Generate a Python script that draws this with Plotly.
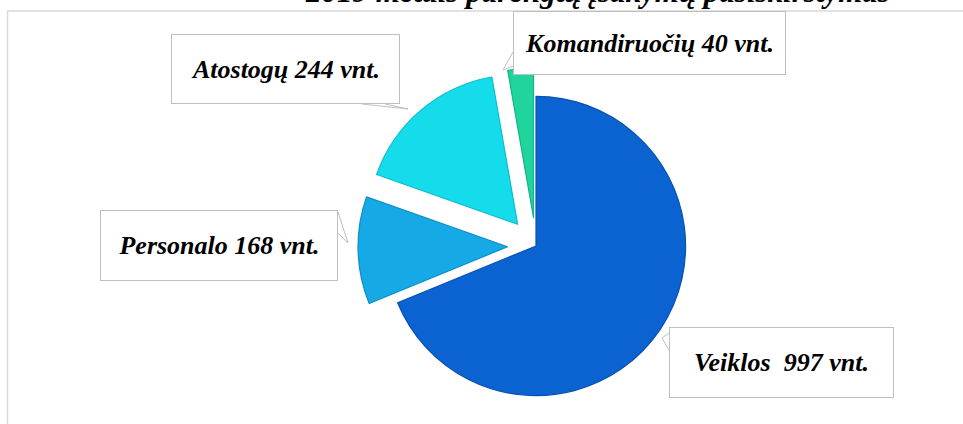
import plotly.graph_objects as go

W, H = 963, 424

# data
categories = ["Veiklos", "Personalo", "Atostogų", "Komandiruočių"]
values = [997, 168, 244, 40]
label_texts = ["Veiklos\u00a0 997 vnt.", "Personalo 168 vnt.", "Atostogų 244 vnt.", "Komandiruočių 40 vnt."]
colors = ["#0A63D1", "#15A9E6", "#14DCEB", "#20D49E"]
edge_colors = ["#0751B3", "#0E8EC6", "#0FBBCB", "#17B386"]
pulls = [0, 0.19, 0.19, 0.19]

title_text = "2019 metais parengtų įsakymų pasiskirstymas"

def px(x):
    return x / W

def py(y):
    return 1 - y / H

fig = go.Figure()
fig.add_trace(go.Pie(
    labels=categories, values=values,
    sort=False, direction="clockwise", rotation=0,
    pull=pulls,
    marker=dict(colors=colors, line=dict(color=edge_colors, width=1.2)),
    textinfo="none", hoverinfo="label+value",
    showlegend=False,
    domain=dict(x=[px(358), px(714)], y=[0, py(68)]),
))

serif = "Liberation Serif, Times New Roman, serif"
font = dict(family=serif, size=26, color="black")

# label boxes (center x, center y, width, height)
boxes = {
    "Veiklos": (781.5, 362.5, 225, 71),
    "Personalo": (219, 245.5, 238, 71),
    "Atostogų": (285.5, 69, 229, 70),
    "Komandiruočių": (649.5, 43, 273, 64),
}
# callout tails
tails = {
    "Veiklos": [(669, 333), (662, 338), (669, 350)],
    "Personalo": [(338, 212), (348, 243), (338, 233)],
    "Atostogų": [(362, 104), (408, 109), (385, 104)],
    "Komandiruočių": [(513, 52), (503, 70), (513, 66)],
}

shapes = [dict(type="rect", xref="paper", yref="paper",
               x0=px(7.5), y0=-0.1, x1=1.1, y1=py(11),
               line=dict(color="#D9D9D9", width=1.5), fillcolor="rgba(0,0,0,0)", layer="below")]

annotations = []
for cat, txt in zip(categories, label_texts):
    cx, cy, bw, bh = boxes[cat]
    annotations.append(dict(
        text="<b><i>" + txt + "</i></b>", x=px(cx), y=py(cy), xref="paper", yref="paper",
        xanchor="center", yanchor="middle", showarrow=False,
        width=bw - 2, height=bh - 2, borderpad=0, borderwidth=1,
        bordercolor="#BFBFBF", bgcolor="white", font=font,
    ))
    pts = tails[cat]
    path = "M " + " L ".join(f"{px(a)},{py(b)}" for a, b in pts)
    shapes.append(dict(type="path", xref="paper", yref="paper", path=path,
                       line=dict(color="#BFBFBF", width=1), fillcolor="white", layer="above"))

annotations.append(dict(
    text="<b><i>" + title_text + "</i></b>", x=px(597), y=py(10), xref="paper", yref="paper",
    xanchor="center", yanchor="bottom", showarrow=False, borderpad=0,
    font=dict(family=serif, size=31, color="black"),
))

fig.update_layout(
    width=W, height=H,
    margin=dict(l=0, r=0, t=0, b=0),
    paper_bgcolor="white", plot_bgcolor="white",
    shapes=shapes, annotations=annotations,
)

fig.write_html("out.html", config={"displayModeBar": False},
               post_script="document.body.style.margin='0';document.body.style.overflow='hidden';")
